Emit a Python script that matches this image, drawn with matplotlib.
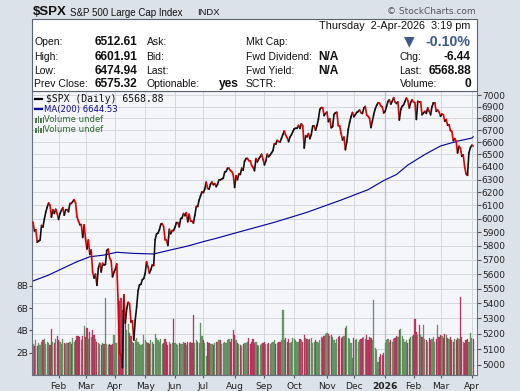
import numpy as np
import pandas as pd
import matplotlib
matplotlib.use('Agg')
import matplotlib.pyplot as plt
import matplotlib.transforms as mtransforms
from matplotlib.collections import LineCollection
from matplotlib.patches import Rectangle
from matplotlib.ticker import NullLocator, FixedLocator

W, H = 520, 391

# trading calendar
holidays = ['2025-01-09', '2025-01-20', '2025-02-17', '2025-04-18', '2025-05-26',
            '2025-06-19', '2025-07-04', '2025-09-01', '2025-11-27', '2025-12-25',
            '2026-01-01', '2026-01-19', '2026-02-16']
dates = pd.bdate_range('2025-01-06', '2026-04-02')
dates = dates[~dates.isin(pd.to_datetime(holidays))]

# daily closes
close_2025 = [
    5975.38, 5909.03, 5918.25, 5827.04, 5836.22, 5842.91, 5949.91, 5937.34, 5996.66, 6049.24,
    6086.37, 6118.71, 6101.24, 6012.28, 6067.70, 6039.31, 6071.17, 6040.53,
    5994.57, 6037.88, 6061.48, 6083.57, 6025.99, 6066.44, 6068.50, 6051.97, 6115.07, 6114.63,
    6129.58, 6144.15, 6117.52, 6013.13, 5983.25, 5955.25, 5956.06, 5861.57, 5954.50,
    5849.72, 5778.15, 5842.63, 5738.52, 5770.20, 5614.56, 5572.07, 5599.30, 5521.52, 5638.94,
    5675.12, 5614.66, 5675.29, 5662.89, 5667.56, 5767.57, 5776.65, 5712.20, 5693.31, 5580.94, 5611.85,
    5633.07, 5670.97, 5396.52, 5074.08, 5062.25, 4982.77, 5456.90, 5268.05, 5363.36, 5405.97,
    5396.63, 5275.70, 5282.70, 5158.20, 5287.76, 5375.86, 5484.77, 5525.21, 5528.75, 5560.83, 5569.06,
    5604.14, 5686.67, 5650.38, 5606.91, 5631.28, 5663.94, 5659.91, 5844.19, 5886.55, 5892.58,
    5916.93, 5958.38, 5963.60, 5940.46, 5844.61, 5842.01, 5802.82, 5921.54, 5888.55, 5912.17, 5911.69,
    5935.94, 5970.37, 5970.81, 5939.30, 6000.36, 6005.88, 6038.81, 6022.24, 6045.26, 5976.97,
    6033.11, 5982.72, 5980.87, 5967.84, 6025.17, 6092.18, 6092.16, 6141.02, 6173.07, 6204.95,
    6198.01, 6227.42, 6279.35, 6229.98, 6225.52, 6263.26, 6280.46, 6259.75, 6268.56, 6243.76, 6263.70,
    6297.36, 6296.79, 6305.60, 6309.62, 6358.91, 6363.35, 6388.64, 6389.77, 6370.86, 6362.90, 6339.39,
    6238.01, 6329.94, 6299.19, 6345.06, 6340.00, 6389.45, 6373.45, 6445.76, 6466.58, 6468.54, 6449.80,
    6449.15, 6411.37, 6395.78, 6370.17, 6466.91, 6439.32, 6465.94, 6481.40, 6501.86, 6460.26,
    6415.54, 6448.26, 6502.08, 6481.50, 6495.15, 6512.61, 6532.04, 6587.47, 6584.29, 6615.28, 6606.76,
    6600.35, 6631.96, 6664.36, 6693.75, 6656.92, 6637.97, 6604.72, 6643.70, 6661.21, 6688.46,
    6711.20, 6715.35, 6715.79, 6740.28, 6714.59, 6753.72, 6735.11, 6552.51, 6654.72, 6644.31, 6671.06,
    6629.07, 6664.01, 6735.13, 6735.35, 6699.40, 6738.44, 6791.69, 6875.16, 6890.89, 6890.59, 6822.34, 6840.20,
    6851.97, 6771.55, 6796.29, 6720.32, 6728.80, 6832.43, 6846.61, 6850.92, 6737.49, 6734.11,
    6672.41, 6617.32, 6642.16, 6538.76, 6602.99, 6705.12, 6765.88, 6812.61, 6849.09,
    6812.63, 6829.37, 6849.72, 6857.12, 6870.40, 6846.51, 6840.51, 6886.68, 6901.00, 6827.41, 6816.51,
    6800.26, 6721.43, 6774.76, 6834.50, 6878.49, 6909.79, 6932.05, 6929.94, 6905.74, 6896.24, 6845.50,
]
close_2026 = [
    6858, 6902, 6944, 6959, 6921, 6945, 6977, 6939, 6926, 6940,
    6785, 6875, 6902, 6915, 6945, 6974, 6950, 6888, 6935, 6959,
    6939, 6930, 6790, 6945, 6939, 6941, 6830, 6845, 6859, 6841,
    6888, 6860, 6830, 6898, 6930, 6930, 6859, 6870, 6853,
    6817, 6836, 6830, 6774, 6790, 6741, 6746, 6696, 6690, 6613, 6630,
    6608, 6512, 6567, 6553, 6485, 6498, 6400, 6344, 6333, 6512, 6553,
    6575.32, 6568.88,
]
close = np.array(close_2025 + close_2026)

# volume, billions of shares
volume = np.array([
    # 2025 Jan
    2.8, 2.6, 3.1, 2.6, 2.9, 2.7, 3.0, 3.1, 3.2, 2.8, 3.0, 2.9, 2.7, 4.1, 3.0, 2.9, 3.2, 3.5,
    # Feb
    3.1, 3.0, 2.8, 3.2, 2.9, 2.8, 2.9, 2.9, 3.0, 2.8, 3.3, 3.0, 3.1, 3.5, 3.5, 3.4, 3.1, 3.5, 4.4,
    # Mar
    3.4, 4.2, 3.2, 3.9, 3.4, 4.0, 3.6, 3.2, 3.0, 2.9, 2.8, 2.7, 2.9, 2.8, 6.9, 2.8, 2.7, 2.8, 2.7, 2.8, 3.6,
    # Apr
    2.9, 2.9, 6.2, 6.6, 6.9, 5.8, 6.7, 5.2, 4.0, 4.6, 3.8, 3.5, 3.0, 2.9, 3.1, 3.3, 3.0, 2.8, 2.7, 2.8, 3.6,
    # May
    3.1, 3.0, 2.9, 2.8, 3.1, 3.0, 2.8, 3.7, 3.3, 3.1, 3.0, 3.2, 2.8, 2.9, 3.2, 3.0, 2.7, 3.0, 2.8, 2.9, 5.0,
    # Jun
    2.9, 2.8, 2.7, 2.9, 2.8, 2.8, 3.0, 2.9, 2.7, 3.0, 2.9, 3.0, 2.9, 5.4, 2.9, 3.1, 3.0, 2.9, 4.7, 3.5,
    # Jul
    3.1, 2.9, 1.7, 3.0, 2.9, 2.8, 2.8, 2.7, 2.9, 3.0, 3.0, 3.1, 3.1, 2.8, 2.9, 3.0, 2.9, 3.1, 3.2, 3.0, 3.2, 4.0,
    # Aug
    3.6, 3.1, 2.9, 2.8, 2.7, 2.6, 2.8, 2.9, 2.9, 3.0, 3.3, 2.8, 3.0, 3.2, 2.9, 3.0, 2.7, 2.6, 2.7, 2.8, 2.9,
    # Sep
    3.0, 2.8, 2.8, 2.9, 2.8, 2.9, 3.0, 3.1, 2.8, 2.9, 3.0, 3.0, 3.1, 5.8, 3.1, 3.3, 3.0, 3.2, 2.9, 3.0, 3.3,
    # Oct
    3.2, 3.1, 3.0, 3.0, 3.2, 3.1, 3.0, 3.6, 3.3, 3.2, 3.1, 3.2, 3.3, 2.9, 3.0, 3.1, 3.0, 2.9, 3.1, 3.4, 3.3, 3.5, 3.7,
    # Nov
    3.8, 3.7, 3.5, 3.6, 3.4, 3.1, 2.9, 3.2, 3.4, 3.5, 3.3, 3.4, 3.5, 4.2, 4.4, 3.3, 3.2, 2.9, 1.5,
    # Dec
    3.3, 3.1, 3.2, 3.0, 3.1, 3.2, 3.3, 3.4, 3.2, 3.6, 3.1, 3.4, 3.3, 3.1, 6.7, 2.4, 2.2, 1.2, 1.6, 1.9, 1.8, 2.0,
    # 2026 Jan
    2.9, 3.1, 3.2, 3.0, 3.1, 3.0, 3.2, 3.3, 3.5, 3.4, 4.0, 4.1, 3.5, 3.2, 3.0, 3.1, 2.9, 3.2, 3.4, 3.5,
    # Feb
    3.6, 5.0, 3.9, 3.6, 4.5, 3.6, 3.4, 4.5, 3.2, 3.1, 3.0, 3.3, 3.1, 3.2, 3.4, 3.0, 3.2, 4.5, 3.4,
    # Mar
    3.6, 3.5, 3.3, 3.7, 3.6, 3.3, 3.2, 3.4, 3.1, 3.0, 3.2, 3.1, 3.3, 3.2, 7.0, 3.4, 3.0, 2.9, 3.1, 3.2, 3.0, 3.8,
    # Apr
    3.3, 3.2,
])

# 200-day moving average
ma_dates = ['2025-01-06', '2025-01-23', '2025-02-06', '2025-02-21', '2025-03-06', '2025-03-20',
            '2025-04-02', '2025-04-21', '2025-05-09', '2025-05-28', '2025-06-13', '2025-07-01',
            '2025-07-15', '2025-08-07', '2025-09-11', '2025-10-14', '2025-11-17', '2025-12-15',
            '2025-12-31', '2026-01-14', '2026-01-27', '2026-02-12', '2026-03-02', '2026-03-18',
            '2026-04-01', '2026-04-02']
ma_values = [5552, 5593, 5640, 5687, 5722, 5734, 5754, 5746, 5742, 5771, 5799, 5831, 5855,
             5904, 5973, 6048, 6141, 6221, 6292, 6340, 6415, 6500, 6569, 6609, 6634, 6644.53]

price_ticks = list(range(5000, 7001, 100))
vol_ticks = [2, 4, 6, 8]
vol_labels = ['2B', '4B', '6B', '8B']

x = np.arange(len(dates))
ma_x = dates.get_indexer(pd.to_datetime(ma_dates))

# month boundaries
month_key = dates.year * 12 + dates.month
month_pos = [i for i in range(1, len(dates)) if month_key[i] != month_key[i - 1]]
month_lab = [('2026' if dates[i].month == 1 else dates[i].strftime('%b')) for i in month_pos]

fig = plt.figure(figsize=(W / 100, H / 100), dpi=100)
fig.patch.set_facecolor('#dce2ea')


def fx(px):
    return px / W


def fy(py):
    return 1 - py / H


ax = fig.add_axes([fx(32), fy(375), 445 / W, 284 / H])
ax.set_facecolor('#f5f6fa')
ax.set_yscale('log')
ax.set_ylim(4938, 7035)
ax.set_xlim(-0.7, 312.7)
ax.set_autoscale_on(False)

axv = ax.twinx()
axv.set_ylim(0, 25.5)
axv.patch.set_visible(False)

# grid
ax.yaxis.set_major_locator(FixedLocator(price_ticks))
ax.yaxis.set_minor_locator(NullLocator())
ax.set_yticklabels([str(t) for t in price_ticks])
ax.set_xticks(month_pos)
ax.set_xticklabels(month_lab)
ax.grid(True, color='#d3d7de', lw=0.7)
ax.set_axisbelow(True)
for i, lab in zip(month_pos, month_lab):
    if lab == '2026':
        ax.axvline(i, color='#bcc0c8', lw=0.9, zorder=0.6)

# volume bars
up = np.r_[True, close[1:] >= close[:-1]]
bar_col = np.where(up, '#6a9a6a', '#c03a62')
edge_col = np.where(up, '#537f53', '#a02a50')
trans = mtransforms.blended_transform_factory(ax.transData, axv.transData)
ax.bar(x, volume, width=0.85, bottom=0, color=bar_col, edgecolor=edge_col,
       linewidth=0.2, transform=trans, zorder=1.5)

# price line coloured by direction
pts = np.column_stack([x, close])
segs = np.stack([pts[:-1], pts[1:]], axis=1)
seg_col = np.where(close[1:] < close[:-1], '#e00000', '#111111')
ax.add_collection(LineCollection(segs, colors=seg_col, linewidths=1.2, zorder=3,
                                 capstyle='round', joinstyle='round'))

# moving average
ax.plot(ma_x, ma_values, color='#0a0a9a', lw=0.85, zorder=2.5)

# axes styling
for sp in ax.spines.values():
    sp.set_color('#6a7280')
for sp in axv.spines.values():
    sp.set_visible(False)
ax.yaxis.tick_right()
ax.tick_params(axis='y', which='major', length=3, pad=0.5, labelsize=6.5,
               color='#555', labelcolor='#222')
ax.tick_params(axis='x', length=2.5, pad=2.5, labelsize=6.6, color='#555', labelcolor='#222')
for t in ax.get_xticklabels():
    if t.get_text() == '2026':
        t.set_fontweight('bold')
axv.yaxis.tick_left()
axv.set_yticks(vol_ticks)
axv.set_yticklabels(vol_labels)
axv.tick_params(axis='y', length=2.5, pad=0.5, labelsize=6.5, color='#555', labelcolor='#222')

# legend
fig.add_artist(plt.Line2D([fx(35), fx(42)], [fy(98.5), fy(98.5)], color='black', lw=1.6))
fig.text(fx(46), fy(98.5), '$SPX (Daily) 6568.88', family='DejaVu Sans Mono', fontsize=7,
         va='center', ha='left', color='#111')
fig.add_artist(plt.Line2D([fx(35), fx(42)], [fy(109.3), fy(109.3)], color='#0a0a9a', lw=1.6))
fig.text(fx(44), fy(109.3), 'MA(200) 6644.53', family='DejaVu Sans', fontsize=6.1,
         va='center', ha='left', color='#0a0a9a')
for yy in (119.3, 129.0):
    for dx, hh in ((0, 5), (2.5, 7), (5, 4.5), (7.5, 6)):
        fig.add_artist(Rectangle((fx(35 + dx), fy(yy + 3.5)), 1.6 / W, hh / H,
                                 transform=fig.transFigure, color='#4d7a4d', lw=0))
    fig.text(fx(44), fy(yy), 'Volume undef', family='DejaVu Sans', fontsize=6.1,
             va='center', ha='left', color='#2f6a2f')

# header box
fig.add_artist(Rectangle((fx(32), fy(91)), 445 / W, 72 / H, transform=fig.transFigure,
                         facecolor='white', edgecolor='#5a6270', lw=0.8, zorder=5))

hf = 'Liberation Sans'


def ht(px, py, s, size=7.5, bold=False, ha='left', color='#111'):
    fig.text(fx(px), fy(py), s, family=hf, fontsize=size, fontweight='bold' if bold else 'normal',
             ha=ha, va='center', color=color, zorder=6)


fig.text(fx(32.5), fy(12), '$SPX', family=hf, fontsize=9.5, fontweight='bold', va='center', color='#111')
fig.text(fx(70), fy(12.5), 'S&P 500 Large Cap Index', family=hf, fontsize=7, va='center', color='#111')
fig.text(fx(197), fy(12.5), 'INDX', family=hf, fontsize=6.8, va='center', color='#111')
fig.text(fx(476), fy(11.8), '\u00a9 StockCharts.com', family='DejaVu Sans', fontsize=6.5,
         va='center', ha='right', color='#555')

ht(470.5, 26, 'Thursday  2-Apr-2026  3:19 pm', size=7.8, ha='right')

rows_y = [42, 56.5, 70.5, 84.3]
left_lab = ['Open:', 'High:', 'Low:', 'Prev Close:']
left_val = ['6512.61', '6601.91', '6474.94', '6575.32']
mid_lab = ['Ask:', 'Bid:', 'Last:', 'Optionable:']
right_lab = ['Mkt Cap:', 'Fwd Dividend:', 'Fwd Yield:', 'SCTR:']
far_lab = ['', 'Chg:', 'Last:', 'Volume:']
far_val = ['', '-6.44', '6568.88', '0']
for i, yy in enumerate(rows_y):
    ht(34.5, yy, left_lab[i])
    ht(137.5, yy, left_val[i], size=8.6, bold=True, ha='right')
    ht(146.5, yy, mid_lab[i])
    ht(245.5, yy, right_lab[i])
    if far_lab[i]:
        ht(399.5, yy, far_lab[i])
        ht(471, yy, far_val[i], size=8.6, bold=True, ha='right')
ht(238.5, 84.3, 'yes', size=8.6, bold=True, ha='right')
ht(318.5, 56.5, 'N/A', size=8.6, bold=True)
ht(318.5, 70.5, 'N/A', size=8.6, bold=True)
fig.text(fx(409), fy(41.5), '\u25bc', family='DejaVu Sans', fontsize=10, ha='center', va='center',
         color='#3f5a8c', zorder=6)
ht(471, 41.5, '-0.10%', size=10.2, bold=True, ha='right', color='#3f5a8c')

fig.savefig('out.png', dpi=100, facecolor=fig.get_facecolor())
